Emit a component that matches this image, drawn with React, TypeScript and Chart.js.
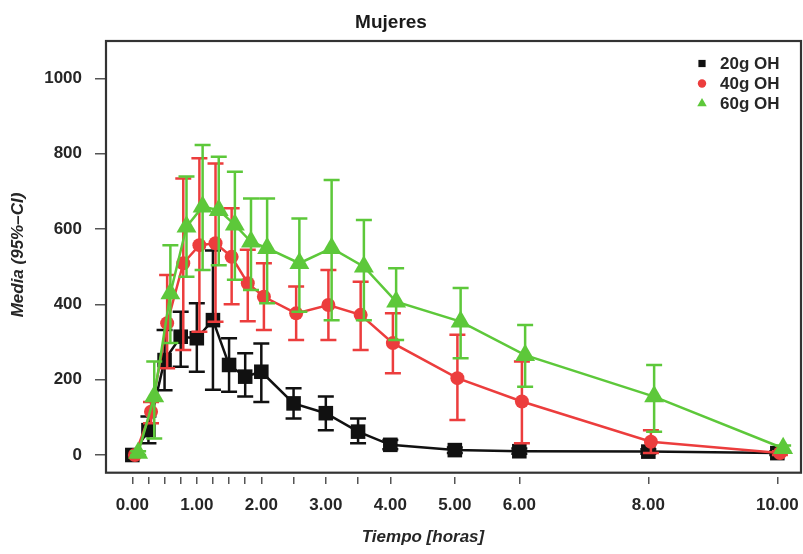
import React, { useEffect, useRef } from "react";
import { Chart, registerables } from "chart.js";

Chart.register(...registerables);

// ---------- data ----------
const times = [0, 0.25, 0.5, 0.75, 1, 1.25, 1.5, 1.75, 2, 2.5, 3, 3.5, 4, 5, 6, 8, 10];
const labeledTimes = [0, 1, 2, 3, 4, 5, 6, 8, 10];
const yTickValues = [0, 200, 400, 600, 800, 1000];
const seriesNames = ["20g OH", "40g OH", "60g OH"];

const mean20 = [0, 66, 252, 314, 310, 358, 239, 208, 221, 137, 111, 62, 27, 13, 10, 9, 5];
const low20 = [0, 31, 172, 234, 221, 173, 168, 155, 141, 97, 66, 31, 15, 5, 3, 3, 0];
const high20 = [0, 102, 332, 380, 403, 543, 310, 270, 296, 177, 155, 97, 40, 20, 17, 15, 10];

const mean40 = [0, 115, 350, 509, 557, 562, 526, 456, 420, 376, 398, 372, 297, 204, 142, 35, 5];
const low40 = [0, 84, 230, 279, 327, 354, 400, 355, 332, 305, 305, 279, 217, 93, 31, 5, 0];
const high40 = [0, 141, 478, 734, 788, 774, 655, 545, 509, 447, 491, 460, 376, 319, 248, 66, 10];

const mean60 = [5, 155, 429, 606, 659, 650, 611, 566, 549, 509, 549, 500, 407, 354, 265, 155, 18];
const low60 = [0, 44, 297, 473, 491, 504, 465, 438, 403, 380, 358, 358, 305, 257, 181, 62, 10];
const high60 = [10, 248, 557, 739, 823, 792, 752, 681, 681, 628, 730, 624, 496, 443, 345, 239, 25];

// ---------- style ----------
const BLACK = "#111111";
const RED = "#EC3D3D";
const GREEN = "#5DC83A";
const TEXT = "#262626";
const FONT = "'Liberation Sans', Arial, Helvetica, sans-serif";

const dodge = [0, 0.04, 0.09];

function mk(means: number[], d: number) {
  return means.map((v, i) => ({ x: times[i] + d, y: v }));
}

function drawMarker(ctx: CanvasRenderingContext2D, style: string, x: number, y: number, r: number, color: string) {
  ctx.save();
  ctx.fillStyle = color;
  ctx.beginPath();
  if (style === "rect") {
    ctx.rect(x - r, y - r, 2 * r, 2 * r);
  } else if (style === "circle") {
    ctx.arc(x, y, r, 0, Math.PI * 2);
  } else {
    ctx.moveTo(x, y - r);
    ctx.lineTo(x + r * 0.866, y + r * 0.5);
    ctx.lineTo(x - r * 0.866, y + r * 0.5);
    ctx.closePath();
  }
  ctx.fill();
  ctx.restore();
}

const decorPlugin = {
  id: "decor",
  beforeDatasetDraw(chart: any, args: any) {
    const ds = chart.data.datasets[args.index];
    const meta = args.meta;
    const ys = chart.scales.y;
    const ctx = chart.ctx as CanvasRenderingContext2D;
    ctx.save();
    ctx.strokeStyle = ds.borderColor;
    ctx.lineWidth = 2.5;
    ctx.lineCap = "butt";
    const cap = 8;
    meta.data.forEach((pt: any, i: number) => {
      const x = pt.x;
      const y1 = ys.getPixelForValue(ds.errLow[i]);
      const y2 = ys.getPixelForValue(ds.errHigh[i]);
      if (Math.abs(y2 - y1) < 1) return;
      ctx.beginPath();
      ctx.moveTo(x, y1);
      ctx.lineTo(x, y2);
      ctx.moveTo(x - cap, y1);
      ctx.lineTo(x + cap, y1);
      ctx.moveTo(x - cap, y2);
      ctx.lineTo(x + cap, y2);
      ctx.stroke();
    });
    ctx.restore();
  },
  afterDraw(chart: any) {
    const ctx = chart.ctx as CanvasRenderingContext2D;
    const a = chart.chartArea;
    ctx.save();
    // frame
    ctx.strokeStyle = "#333333";
    ctx.lineWidth = 2.2;
    ctx.strokeRect(a.left, a.top, a.right - a.left, a.bottom - 4.3 - a.top);
    // title
    ctx.fillStyle = "#1a1a1a";
    ctx.textAlign = "center";
    ctx.textBaseline = "middle";
    ctx.font = `bold 19px ${FONT}`;
    ctx.fillText("Mujeres", 391, 23);
    // x title
    ctx.fillStyle = TEXT;
    ctx.font = `italic bold 17px ${FONT}`;
    ctx.fillText("Tiempo [horas]", 423, 537);
    // y title
    ctx.save();
    ctx.translate(18, 255);
    ctx.rotate(-Math.PI / 2);
    ctx.fillText("Media (95%\u2013CI)", 0, 0);
    ctx.restore();
    // legend
    const styles = ["rect", "circle", "triangle"];
    const sizes = [3.6, 4.2, 5.5];
    const colors = [BLACK, RED, GREEN];
    ctx.font = `bold 17px ${FONT}`;
    ctx.textAlign = "left";
    seriesNames.forEach((name, i) => {
      const y = 63.5 + i * 20;
      drawMarker(ctx, styles[i], 702, y, sizes[i], colors[i]);
      ctx.fillStyle = TEXT;
      ctx.fillText(name, 720, y + 1);
    });
    ctx.restore();
  },
};

export default function App() {
  const ref = useRef<HTMLCanvasElement | null>(null);

  useEffect(() => {
    if (!ref.current) return;
    const mkDs = (label: string, means: number[], lo: number[], hi: number[], color: string, style: string, radius: number, d: number, order: number) => ({
      label,
      data: mk(means, d),
      errLow: lo,
      errHigh: hi,
      borderColor: color,
      backgroundColor: color,
      pointBackgroundColor: color,
      pointBorderColor: color,
      pointBorderWidth: 0,
      pointStyle: style,
      pointRadius: radius,
      borderWidth: 2.5,
      tension: 0,
      fill: false,
      order,
    });

    const chart = new Chart(ref.current, {
      type: "line",
      data: {
        datasets: [
          mkDs(seriesNames[0], mean20, low20, high20, BLACK, "rect", 10.3, dodge[0], 2),
          mkDs(seriesNames[1], mean40, low40, high40, RED, "circle", 7, dodge[1], 1),
          mkDs(seriesNames[2], mean60, low60, high60, GREEN, "triangle", 11.5, dodge[2], 0),
        ] as any,
      },
      options: {
        animation: false,
        responsive: false,
        maintainAspectRatio: false,
        layout: { autoPadding: false, padding: { top: 41, right: 2, left: 0, bottom: 0 } },
        plugins: {
          legend: { display: false },
          title: { display: false },
          tooltip: { enabled: false },
        },
        scales: {
          x: {
            type: "linear",
            min: -0.408,
            max: 10.367,
            afterBuildTicks: (scale: any) => {
              scale.ticks = times.map((v) => ({ value: v }));
            },
            afterFit: (scale: any) => {
              scale.height = 77;
              scale.paddingLeft = 0;
              scale.paddingRight = 0;
            },
            border: { display: false },
            grid: {
              drawOnChartArea: false,
              drawTicks: true,
              tickLength: 7,
              color: "#555555",
              lineWidth: 1.5,
            },
            ticks: {
              autoSkip: false,
              maxRotation: 0,
              padding: 11,
              color: TEXT,
              font: { family: FONT, size: 17, weight: "bold" },
              callback: (v: any) => (labeledTimes.includes(Number(v)) ? Number(v).toFixed(2) : ""),
            },
          },
          y: {
            type: "linear",
            min: -58.4,
            max: 1099,
            afterBuildTicks: (scale: any) => {
              scale.ticks = yTickValues.map((v) => ({ value: v }));
            },
            afterFit: (scale: any) => {
              scale.width = 106;
              scale.paddingTop = 0;
              scale.paddingBottom = 0;
            },
            border: { display: false },
            grid: {
              drawOnChartArea: false,
              drawTicks: true,
              tickLength: 11,
              color: "#555555",
              lineWidth: 1.5,
            },
            ticks: {
              padding: 13,
              color: TEXT,
              font: { family: FONT, size: 17, weight: "bold" },
              callback: (v: any) => String(v),
            },
          },
        },
      } as any,
      plugins: [decorPlugin],
    });
    return () => chart.destroy();
  }, []);

  return (
    <div style={{ position: "fixed", left: 0, top: 0, width: 803, height: 554, background: "#ffffff" }}>
      <canvas ref={ref} width={803} height={554} style={{ display: "block" }} />
    </div>
  );
}
